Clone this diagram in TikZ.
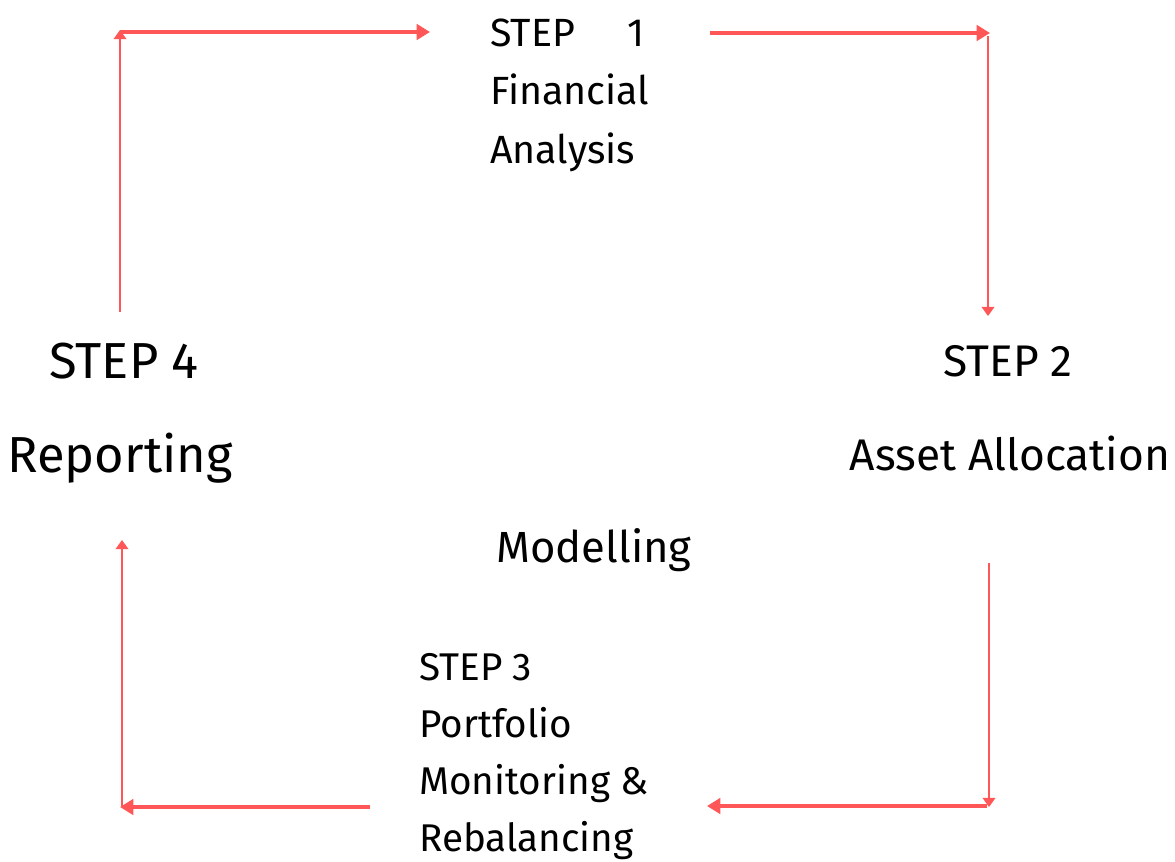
\documentclass[tikz,border=0pt]{standalone}
\usepackage{fontspec}
\setmainfont{Fira Sans}
\usetikzlibrary{arrows.meta}
\definecolor{flowred}{HTML}{FF5757}

\begin{document}
\begin{tikzpicture}[x=0.025cm,y=-0.025cm,
  thickarrow/.style={flowred, line width=3.1pt, -{Triangle[length=9.5pt,width=11pt]}},
  thinarrow/.style={flowred, line width=1.3pt, -{Triangle[length=6.5pt,width=9pt]}},
  steptext/.style={anchor=base west, inner sep=0pt, align=left}]
  \useasboundingbox (0,0) rectangle (1175,861);

  % Arrow end points
  \coordinate (topLs) at (120,32);  \coordinate (topLe) at (430,32);
  \coordinate (topRs) at (710,33);  \coordinate (topRe) at (990,33);
  \coordinate (rightTs) at (988,36); \coordinate (rightTe) at (988,316);
  \coordinate (rightBs) at (989,563); \coordinate (rightBe) at (989,807);
  \coordinate (botRs) at (987,806); \coordinate (botRe) at (707,806);
  \coordinate (botLs) at (370,807); \coordinate (botLe) at (120,807);
  \coordinate (leftBs) at (122,806); \coordinate (leftBe) at (122,540);
  \coordinate (leftTs) at (120,312); \coordinate (leftTe) at (120,30);

  % Steps (base of a block = baseline of its last line)
  \node[steptext, font=\fontsize{28}{41.3}\selectfont] (finance) at (490,163)
    {STEP\hspace{1.3cm}1\\Financial\\Analysis};
  \node[steptext, font=\fontsize{31.5}{42}\selectfont, anchor=base] (stepTwo) at (1008,376) {STEP 2};
  \node[steptext, font=\fontsize{31.5}{42}\selectfont, anchor=base] (assets) at (1010,470) {Asset Allocation};
  \node[steptext, font=\fontsize{31}{42}\selectfont, anchor=base] (modelling) at (594,562) {Modelling};
  \node[steptext, font=\fontsize{27.5}{40.5}\selectfont] (monitoring) at (419,851)
    {STEP 3\\Portfolio\\Monitoring \&\\Rebalancing};
  \node[steptext, font=\fontsize{36}{48}\selectfont, anchor=base] (stepFour) at (124,378) {STEP 4};
  \node[steptext, font=\fontsize{36}{48}\selectfont, anchor=base] (reporting) at (120,472) {Reporting};

  % Arrows round the cycle
  \draw[thickarrow] (topLs) -- (topLe);
  \draw[thickarrow] (topRs) -- (topRe);
  \draw[thinarrow] (rightTs) -- (rightTe);
  \draw[thinarrow] (rightBs) -- (rightBe);
  \draw[thickarrow] (botRs) -- (botRe);
  \draw[thickarrow] (botLs) -- (botLe);
  \draw[thinarrow] (leftBs) -- (leftBe);
  \draw[thinarrow] (leftTs) -- (leftTe);
\end{tikzpicture}
\end{document}
